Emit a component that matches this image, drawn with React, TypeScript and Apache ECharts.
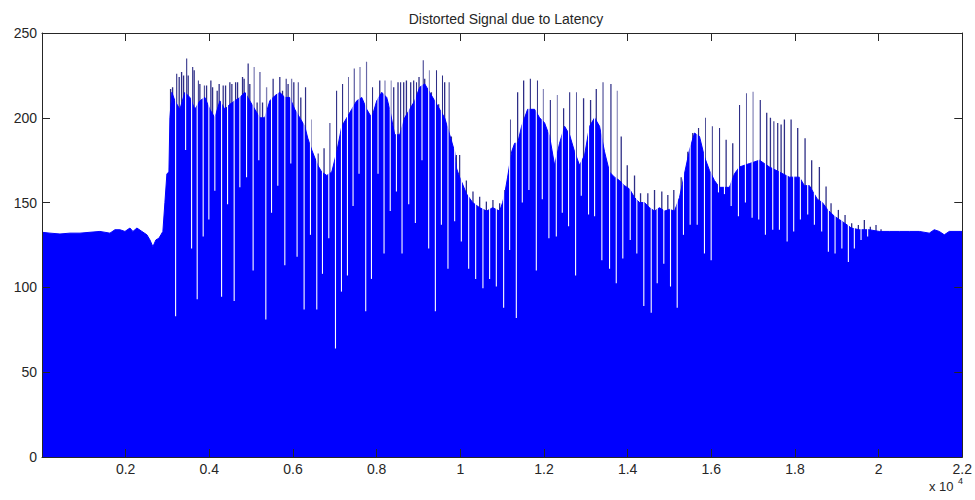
import React, { useEffect, useRef } from "react";
import * as echarts from "echarts";

// Sample index along the recording (0 … 22000) and level of the dense signal body.
const bodyX = [
  0, 191, 430, 669, 908, 1147, 1385, 1624, 1744, 1863, 1983, 2102, 2174, 2269, 2389, 2508, 2580, 2651, 2723, 2795, 2843, 2890, 2938, 2986, 3034, 3058, 3105,
  3177, 3296, 3416, 3535, 3655, 3774, 3894, 4013, 4132, 4252, 4371, 4491, 4610, 4730, 4849, 4968, 5088, 5207, 5327,
  5446, 5566, 5685, 5805, 5924, 6043, 6163, 6282, 6354, 6449, 6593, 6688, 6808, 6927, 7047, 7166, 7286, 7405, 7524, 7644, 7763, 7883, 8002, 8122, 8241, 8313,
  8432, 8552, 8671, 8790, 8910, 9029, 9149, 9268, 9388, 9507, 9626, 9746, 9865, 9913, 9985, 10152, 10296, 10463, 10630, 10773, 10940, 11012, 11060, 11131, 11227, 11299,
  11370, 11466, 11609, 11776, 11896, 12015, 12135, 12254, 12373, 12493, 12612, 12732, 12851, 12971, 13090, 13210, 13329, 13448, 13568, 13687, 13807, 13926, 14046, 14165, 14285,
  14404, 14523, 14643, 14762, 14882, 15001, 15121, 15240, 15359, 15479, 15598, 15718, 15837, 15957, 16076, 16195, 16434, 16554, 16673, 16912, 17151, 17390, 17629, 17867, 18106, 18226, 18345, 18536, 18656, 18775, 18942, 19062, 19181, 19348, 19537, 19657, 19776, 20015, 20254, 20495, 20734, 20973, 21212, 21331, 21450, 21570, 21689, 22000,
];
const bodyY = [
  132.5, 132, 131.5, 132, 132, 132.5, 133, 132, 134, 134, 133, 135, 133, 135, 133, 131, 128, 124, 128, 129, 131, 133, 150, 167, 168, 200, 215,
  210, 205, 215, 212, 205, 210, 212, 205, 200, 210, 205, 208, 210, 212, 215, 210, 205, 200, 200,
  210, 213, 215, 212, 212, 205, 200, 195, 188, 181, 172, 168, 166, 168, 180, 195, 200, 205, 210, 212, 205, 200, 210, 215, 212, 205,
  190, 190, 200, 205, 210, 218, 220, 215, 210, 205, 200, 190, 180, 170, 165, 155, 150, 147, 145, 147, 145, 150, 155, 165, 180, 185,
  185, 195, 205, 205, 200, 197, 189, 172, 185, 195, 190, 180, 172, 178, 195, 200, 195, 180, 168, 165, 163, 160, 158, 153, 150,
  150, 147, 145, 147, 145, 146, 145, 153, 167, 181, 191, 189, 177, 169, 163, 159, 159, 167, 171, 173, 175, 171, 168, 165, 165, 160, 160, 152, 150, 146, 142, 140, 138, 135, 134, 134, 134, 133, 133, 133, 133, 133, 132, 134, 133, 131, 133, 133,
];

// Short upward overshoots above the body.
const spikeX = [
  3074, 3122, 3218, 3280, 3337, 3385, 3456, 3495, 3600, 3638, 3734, 3774, 3877, 3934, 4037, 4078, 4188, 4235, 4331, 4388, 4491, 4539, 4627, 4675, 4794, 4832, 4928, 4968, 5064, 5143, 5207, 5272, 5367,
  5525, 5606, 5685, 5750, 5835, 5883, 5965, 6020, 6122, 6187, 6299, 6426, 6600, 6743, 6879, 7040, 7183, 7317, 7460, 7596, 7756, 7899, 8074, 8193, 8337,
  8408, 8511, 8575, 8647, 8712, 8814, 8886, 8950, 9013, 9110, 9149, 9252, 9309, 9428, 9483, 9571, 9626, 9729, 9787, 9906, 9985, 10145, 10303, 10463, 10623, 10780, 10940, 11060, 11196, 11370,
  11514, 11673, 11841, 11975, 12151, 12309, 12469, 12612, 12772, 12947, 13114, 13250, 13408, 13600, 13742, 13847, 13991, 14165, 14309,
  14483, 14643, 14817, 14961, 15104, 15280, 15438, 15557, 15694, 15854, 16021, 16195, 16355, 16513, 16673, 16833, 16991, 17170, 17325,
  17414, 17493, 17588, 17669, 17748, 17908, 18066, 18242, 18400, 18584, 18744, 18863, 19038, 19198, 19356, 19516, 19659, 19802, 19938, 20058,
];
const spikeY = [
  217, 218, 226, 224, 227, 225, 235, 225, 230, 228, 222, 220, 219, 219, 222, 218, 216, 220, 219, 219, 221, 220, 221, 221, 224, 223, 232, 220, 230, 209, 227, 209, 218,
  223, 213, 224, 216, 223, 220, 223, 221, 221, 212, 218, 199, 179, 182, 197, 216, 220, 224, 229, 230, 233, 218, 222, 222, 222,
  218, 221, 221, 221, 222, 221, 222, 221, 224, 234, 223, 228, 215, 228, 208, 225, 221, 221, 189, 178, 178, 163, 156.5, 153.5, 150.6, 151.6, 149.6, 157.5, 199, 215,
  222, 223, 222, 217, 210.5, 213.5, 205.6, 215, 215, 211.5, 210.5, 217, 221, 220, 216, 189, 172, 166, 155.5,
  155.5, 157.5, 156.5, 154.5, 157.5, 165, 180, 191, 194, 200, 195, 194, 187, 185, 207.6, 214.5, 215.4, 210.5, 203,
  200, 198, 197, 196, 199, 199, 194, 188, 175, 171, 159.5, 149.6, 145.7, 142.7, 137.8, 136.8, 139.8, 135.8, 136.8, 134.3,
];

// Brief drop-outs: the level each one falls to.
const dipX = [
  3194, 3433, 3576, 3710, 3853, 3989, 4132, 4293, 4436, 4594, 4730, 4890, 5047, 5183, 5351,
  5487, 5637, 5805, 5948, 6098, 6266, 6418, 6569, 6705, 6856, 7016, 7159, 7302, 7436, 7579, 7739, 7876, 8033, 8177, 8325,
  8473, 8607, 8767, 8926, 9084, 9244, 9404, 9548, 9705, 9865, 10025, 10200, 10367, 10541, 10701, 10861, 11036, 11179, 11339,
  11482, 11640, 11817, 11960, 12118, 12295, 12438, 12588, 12756, 12892, 13066, 13210, 13384, 13568, 13728, 13885, 14062, 14220, 14387,
  14564, 14707, 14865, 15025, 15185, 15335, 15495, 15663, 15837, 15997, 16172, 16315, 16475, 16649, 16816, 16976, 17134, 17294,
  17469, 17629, 17813, 17970, 18130, 18305, 18465, 18639, 18799, 18959, 19122, 19277, 19420, 19580, 19738,
];
const dipY = [
  83, 181, 123, 93, 130, 140, 157, 94.5, 149, 92, 159, 165, 110, 175, 81,
  144, 160, 113, 173, 118, 87, 131, 87, 108, 129, 64, 97.5, 107, 148, 167, 86, 105, 167, 120, 145,
  156.5, 120, 149, 138, 175, 123, 86, 137, 111, 139, 127, 111, 105, 99.5, 105, 100.5, 88, 122, 82,
  150, 157.5, 110, 152, 129, 130, 144, 136, 107, 154, 143, 142, 116, 111, 102.5, 117, 128, 120, 89,
  85, 102.5, 114, 100.5, 88, 131, 137, 137, 120, 116, 156, 155, 148, 142, 150, 141, 140, 131,
  134, 134, 127, 133, 140, 143, 137, 133, 121, 120, 123, 115, 123, 128, 130,
];

const yTicks = [0, 50, 100, 150, 200, 250];
const xTickStep = 2000;
const xMax = 22000;

const FONT = "'Liberation Sans', Arial, Helvetica, sans-serif";
const INK = "#262626";
const SIGNAL = "#0000ff";

function verticalBar(color: string, width: number) {
  return (_params: any, api: any) => {
    const x = api.value(0);
    const lo = api.coord([x, api.value(1)]);
    const hi = api.coord([x, api.value(2)]);
    return {
      type: "rect",
      shape: { x: lo[0] - width / 2, y: hi[1], width, height: lo[1] - hi[1] },
      style: { fill: color },
    };
  };
}

export default function App() {
  const ref = useRef<HTMLDivElement>(null);

  useEffect(() => {
    if (!ref.current) return;
    const chart = echarts.init(ref.current, undefined, { renderer: "svg" });

    const axisCommon = {
      min: 0,
      axisLine: { show: true, onZero: false, lineStyle: { color: INK, width: 1 } },
      axisTick: { show: true, inside: true, length: 8, lineStyle: { color: INK } },
      splitLine: { show: false },
      z: 10,
    };

    chart.setOption({
      animation: false,
      backgroundColor: "#ffffff",
      title: {
        text: "Distorted Signal due to Latency",
        left: 501,
        textAlign: "center",
        top: 7,
        textStyle: { fontFamily: FONT, fontSize: 14, fontWeight: "normal", color: INK },
      },
      grid: { left: 42, right: 12, top: 33, bottom: 43, containLabel: false },
      xAxis: [
        {
          ...axisCommon,
          type: "value",
          position: "bottom",
          max: xMax,
          interval: xTickStep,
          axisLabel: {
            fontFamily: FONT,
            fontSize: 14,
            color: INK,
            margin: 5,
            showMinLabel: true,
            showMaxLabel: true,
            formatter: (v: number) => (v === 0 ? "" : String(Math.round(v / 1000) / 10)),
          },
        },
        {
          ...axisCommon,
          type: "value",
          position: "top",
          max: xMax,
          interval: xTickStep,
          axisLabel: { show: false },
        },
      ],
      yAxis: [
        {
          ...axisCommon,
          type: "value",
          position: "left",
          max: yTicks[yTicks.length - 1],
          interval: yTicks[1] - yTicks[0],
          axisLabel: { fontFamily: FONT, fontSize: 14, color: INK, margin: 5 },
        },
        {
          ...axisCommon,
          type: "value",
          position: "right",
          max: yTicks[yTicks.length - 1],
          interval: yTicks[1] - yTicks[0],
          axisLabel: { show: false },
        },
      ],
      graphic: [
        {
          type: "text",
          left: 929,
          top: 480,
          style: { text: "x 10", fontFamily: FONT, fontSize: 13, fill: INK },
          z: 20,
        },
        {
          type: "text",
          left: 958,
          top: 476,
          style: { text: "4", fontFamily: FONT, fontSize: 9, fill: INK },
          z: 20,
        },
      ],
      series: [
        {
          name: "overshoot",
          type: "custom",
          xAxisIndex: 0,
          yAxisIndex: 0,
          clip: true,
          z: 1,
          renderItem: verticalBar("#2e2e86", 1.3),
          encode: { x: 0, y: [1, 2] },
          data: spikeX.map((x, i) => [x, 0, spikeY[i]]),
        },
        {
          name: "signal",
          type: "line",
          xAxisIndex: 0,
          yAxisIndex: 0,
          z: 2,
          showSymbol: false,
          symbol: "none",
          lineStyle: { color: SIGNAL, width: 1 },
          areaStyle: { color: SIGNAL, opacity: 1 },
          data: bodyX.map((x, i) => [x, bodyY[i]]),
        },
        {
          name: "dropout",
          type: "custom",
          xAxisIndex: 0,
          yAxisIndex: 0,
          clip: true,
          z: 3,
          renderItem: verticalBar("#ffffff", 1.1),
          encode: { x: 0, y: [1, 2] },
          data: dipX.map((x, i) => [x, dipY[i], 246]),
        },
      ],
    });

    return () => chart.dispose();
  }, []);

  return (
    <div
      ref={ref}
      style={{ position: "fixed", left: 0, top: 0, width: 975, height: 500, background: "#fff" }}
    />
  );
}
